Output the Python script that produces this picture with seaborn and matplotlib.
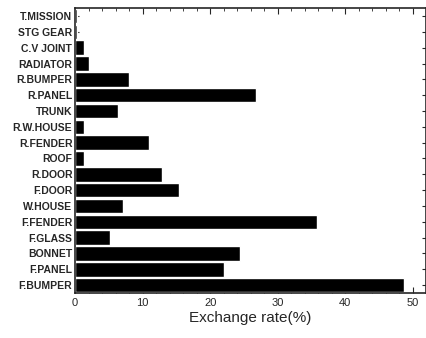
import matplotlib
matplotlib.use('Agg')
import matplotlib.pyplot as plt
import pandas as pd
import seaborn as sns
from matplotlib.ticker import MultipleLocator

# parts, top to bottom as in the figure
parts = ['T.MISSION', 'STG GEAR', 'C.V JOINT', 'RADIATOR', 'R.BUMPER', 'R.PANEL',
         'TRUNK', 'R.W.HOUSE', 'R.FENDER', 'ROOF', 'R.DOOR', 'F.DOOR', 'W.HOUSE',
         'F.FENDER', 'F.GLASS', 'BONNET', 'F.PANEL', 'F.BUMPER']
rates = [0.3, 0.2, 1.3, 2.1, 8.0, 26.8, 6.4, 1.3, 10.9, 1.3, 12.9, 15.4, 7.1,
         35.8, 5.2, 24.4, 22.1, 48.7]

df = pd.DataFrame({'Part': parts, 'Rate': rates})

sns.set_style('ticks')
plt.rcParams['font.family'] = ['Liberation Sans', 'DejaVu Sans']

fig = plt.figure(figsize=(4.27, 3.38), dpi=100)
ax = fig.add_axes([0.176, 0.133, 0.822, 0.843])

sns.barplot(data=df, x='Rate', y='Part', orient='h', color='black',
            width=0.92, saturation=1, ax=ax)

ax.set_xlim(0, 52)
ax.set_ylim(len(parts) - 0.5, -0.5)
ax.xaxis.set_major_locator(MultipleLocator(10))
ax.xaxis.set_minor_locator(MultipleLocator(2))
ax.tick_params(axis='both', which='both', direction='in', top=True, right=True)
ax.tick_params(axis='x', which='major', length=4, labelsize=8)
ax.tick_params(axis='x', which='minor', length=2)
ax.tick_params(axis='y', length=3, labelsize=7.5, pad=2)
for lbl in ax.get_yticklabels():
    lbl.set_fontweight('bold')
ax.set_xlabel('Exchange rate(%)', fontsize=11, labelpad=2)
ax.set_ylabel('')
for s in ax.spines.values():
    s.set_linewidth(1.2)

fig.savefig('out.png', dpi=100)
